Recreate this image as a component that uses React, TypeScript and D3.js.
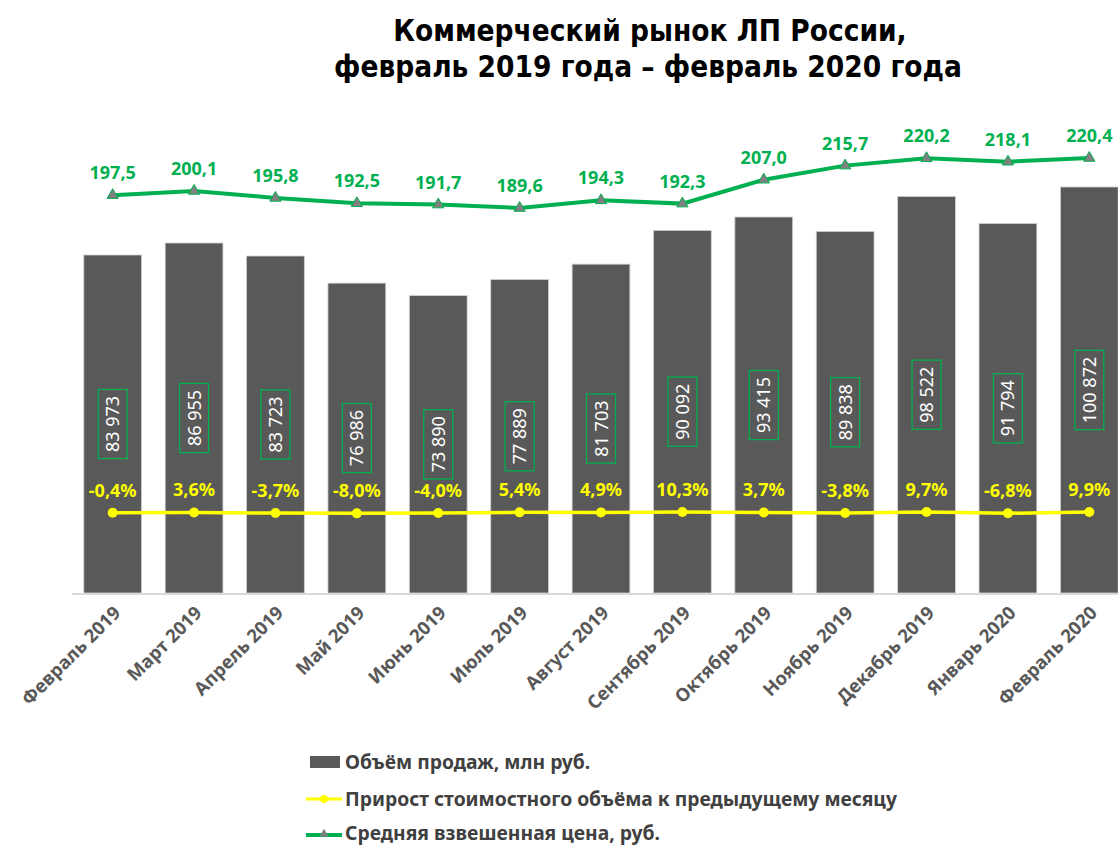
import React from "react";
import * as d3 from "d3";

const months = [
  "Февраль 2019", "Март 2019", "Апрель 2019", "Май 2019", "Июнь 2019", "Июль 2019",
  "Август 2019", "Сентябрь 2019", "Октябрь 2019", "Ноябрь 2019", "Декабрь 2019",
  "Январь 2020", "Февраль 2020",
];
const volume = [83973, 86955, 83723, 76986, 73890, 77889, 81703, 90092, 93415, 89838, 98522, 91794, 100872];
const growth = [-0.4, 3.6, -3.7, -8.0, -4.0, 5.4, 4.9, 10.3, 3.7, -3.8, 9.7, -6.8, 9.9];
const price = [197.5, 200.1, 195.8, 192.5, 191.7, 189.6, 194.3, 192.3, 207.0, 215.7, 220.2, 218.1, 220.4];

const legendItems = [
  "Объём продаж, млн руб.",
  "Прирост стоимостного объёма к предыдущему месяцу",
  "Средняя взвешенная цена, руб.",
];

const W = 1118;
const H = 845;
const barColor = "#595959";
const green = "#00b050";
const yellow = "#ffff00";
const font = "'Noto Sans', 'Open Sans', sans-serif";

const fmt = (v: number) => d3.format(",")(v).replace(/,/g, " ");
const fmt1 = (v: number) => v.toFixed(1).replace(".", ",");

export default function App() {
  const x = d3.scaleBand<string>().domain(months).range([72, 1130]).paddingInner(0.29).paddingOuter(0.145);
  const yVol = d3.scaleLinear().domain([0, 120000]).range([593, 110]);
  const yPrice = d3.scaleLinear().domain([150, 230]).range([272.3, 142.4]);
  const yPct = d3.scaleLinear().domain([-10, 10]).range([513.5, 512]);
  const cx = (m: string) => (x(m) ?? 0) + x.bandwidth() / 2;

  const priceLine = d3.line<number>().x((_, i) => cx(months[i])).y((d) => yPrice(d));
  const pctLine = d3.line<number>().x((_, i) => cx(months[i])).y((d) => yPct(d));
  const tri = d3.symbol().type(d3.symbolTriangle).size(55)();

  return (
    <svg width={W} height={H} style={{ position: "absolute", left: 0, top: 0, background: "#fff" }}>
      <g fontFamily="'DejaVu Sans Condensed', 'DejaVu Sans', sans-serif" fontWeight="bold" fontSize={29.5} textAnchor="middle" fill="#000">
        <text x={650} y={41}>Коммерческий рынок ЛП России,</text>
        <text x={648} y={77}>февраль 2019 года – февраль 2020 года</text>
      </g>

      {volume.map((v, i) => (
        <rect key={months[i]} x={x(months[i])} y={yVol(v)} width={x.bandwidth()} height={yVol(0) - yVol(v)}
          fill={barColor} stroke="#d0d0d0" strokeWidth={0.8} />
      ))}
      <line x1={72} x2={W} y1={yVol(0) + 1} y2={yVol(0) + 1} stroke="#d9d9d9" strokeWidth={2} />

      {volume.map((v, i) => {
        const label = fmt(v);
        const len = label.length * 10.2 + 8;
        const yc = (yVol(v) + yVol(0)) / 2;
        return (
          <g key={"vl" + i} transform={`translate(${cx(months[i])},${yc}) rotate(-90)`}>
            <rect x={-len / 2} y={-14.5} width={len} height={29} fill="none" stroke={green} strokeWidth={1.3} />
            <text x={0} y={6.5} textAnchor="middle" fontFamily={font} fontSize={18} fill="#fff">{label}</text>
          </g>
        );
      })}

      <path d={pctLine(growth) ?? ""} fill="none" stroke={yellow} strokeWidth={3.5} />
      {growth.map((g, i) => (
        <g key={"g" + i}>
          <circle cx={cx(months[i])} cy={yPct(g)} r={5} fill={yellow} />
          <text x={cx(months[i])} y={yPct(g) - 16} textAnchor="middle" fontFamily={font} fontWeight="bold" fontSize={18} fill={yellow}>
            {fmt1(g) + "%"}
          </text>
        </g>
      ))}

      <path d={priceLine(price) ?? ""} fill="none" stroke={green} strokeWidth={4} />
      {price.map((p, i) => (
        <g key={"p" + i}>
          <path d={tri ?? ""} transform={`translate(${cx(months[i])},${yPrice(p)})`} fill="#808080" stroke={green} strokeWidth={1} />
          <text x={cx(months[i])} y={yPrice(p) - 16} textAnchor="middle" fontFamily={font} fontWeight="bold" fontSize={18} fill={green}>
            {fmt1(p)}
          </text>
        </g>
      ))}

      {months.map((m) => (
        <text key={"t" + m} transform={`translate(${cx(m) + 9},${614}) rotate(-45)`} textAnchor="end"
          fontFamily={font} fontWeight="bold" fontSize={18.5} fill={barColor}>
          {m}
        </text>
      ))}

      <g fontFamily={font} fontWeight="bold" fontSize={19.3} fill="#404040">
        <rect x={310} y={756} width={30} height={12} fill={barColor} />
        <text x={345} y={769}>{legendItems[0]}</text>
        <line x1={306} x2={342} y1={799} y2={799} stroke={yellow} strokeWidth={3} />
        <circle cx={324} cy={799} r={4} fill={yellow} />
        <text x={345} y={806}>{legendItems[1]}</text>
        <line x1={306} x2={342} y1={835} y2={835} stroke={green} strokeWidth={4} />
        <path d={d3.symbol().type(d3.symbolTriangle).size(35)() ?? ""} transform="translate(324,834)" fill="#808080" />
        <text x={345} y={840}>{legendItems[2]}</text>
      </g>
    </svg>
  );
}
